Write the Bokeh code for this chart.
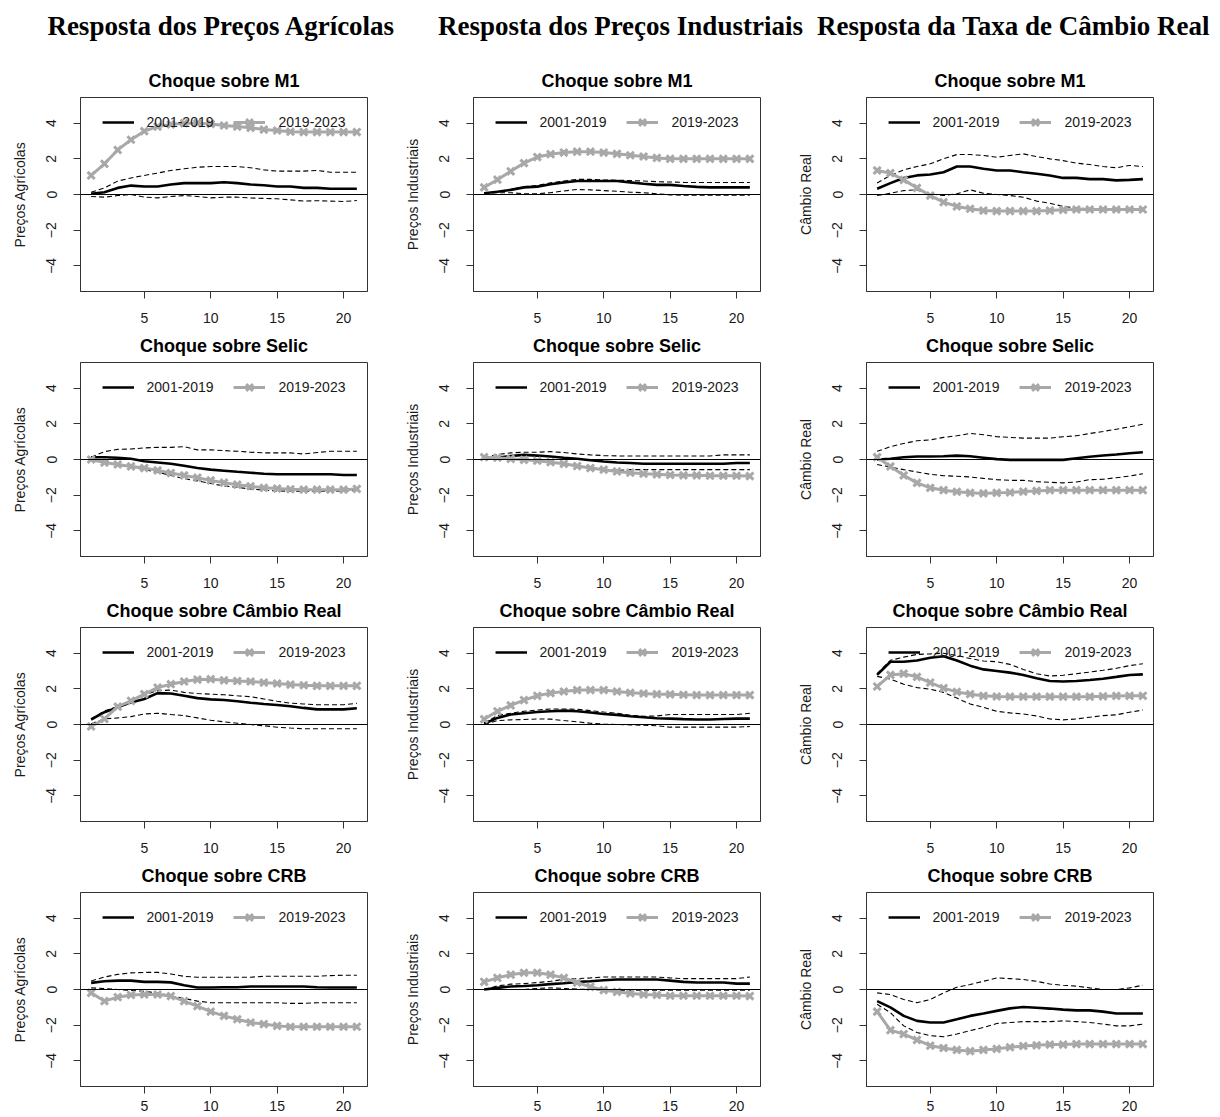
from bokeh.plotting import figure
from bokeh.layouts import gridplot, column
from bokeh.models import Title, Legend, LegendItem, FixedTicker, Span
from bokeh.core.properties import value
from bokeh.embed import file_html
from bokeh.resources import INLINE

horizon = list(range(1, 22))

column_titles = ["Resposta dos Preços Agrícolas", "Resposta dos Preços Industriais", "Resposta da Taxa de Câmbio Real"]
shock_titles = ["Choque sobre M1", "Choque sobre Selic", "Choque sobre Câmbio Real", "Choque sobre CRB"]
y_labels = ["Preços Agrícolas", "Preços Industriais", "Câmbio Real"]
series_names = ["2001-2019", "2019-2023"]
x_ticks = [5, 10, 15, 20]
y_ticks = [-4, -2, 0, 2, 4]

# ---- Shock: M1 ----
agr_m1_a = [0.04, 0.13, 0.37, 0.50, 0.45, 0.45, 0.56, 0.64, 0.64, 0.64, 0.69, 0.64, 0.56, 0.52, 0.45, 0.45, 0.37, 0.37, 0.32, 0.32, 0.32]
agr_m1_up = [0.13, 0.37, 0.75, 0.93, 1.07, 1.20, 1.35, 1.44, 1.53, 1.57, 1.57, 1.57, 1.50, 1.38, 1.31, 1.31, 1.31, 1.35, 1.25, 1.25, 1.25]
agr_m1_lo = [-0.11, -0.15, -0.06, 0.0, -0.15, -0.19, -0.11, -0.06, -0.11, -0.19, -0.15, -0.15, -0.19, -0.22, -0.24, -0.30, -0.37, -0.35, -0.37, -0.39, -0.34]
agr_m1_b = [1.07, 1.72, 2.50, 3.07, 3.55, 3.81, 3.93, 4.00, 4.00, 3.96, 3.87, 3.81, 3.74, 3.64, 3.59, 3.52, 3.50, 3.50, 3.50, 3.50, 3.50]

ind_m1_a = [0.07, 0.15, 0.26, 0.40, 0.44, 0.57, 0.68, 0.76, 0.76, 0.76, 0.76, 0.68, 0.60, 0.54, 0.54, 0.48, 0.43, 0.40, 0.40, 0.40, 0.40]
ind_m1_up = [0.07, 0.18, 0.28, 0.44, 0.50, 0.65, 0.76, 0.85, 0.85, 0.81, 0.80, 0.78, 0.76, 0.72, 0.70, 0.68, 0.67, 0.67, 0.67, 0.67, 0.67]
ind_m1_lo = [0.07, 0.10, 0.10, 0.04, 0.04, 0.10, 0.20, 0.28, 0.26, 0.22, 0.18, 0.13, 0.10, 0.04, -0.02, -0.04, -0.04, -0.04, -0.04, -0.04, -0.04]
ind_m1_b = [0.40, 0.83, 1.30, 1.76, 2.10, 2.26, 2.35, 2.40, 2.40, 2.35, 2.28, 2.20, 2.13, 2.05, 2.00, 2.00, 2.00, 2.00, 2.00, 2.00, 2.00]

cam_m1_a = [0.32, 0.64, 0.93, 1.07, 1.12, 1.25, 1.57, 1.57, 1.44, 1.35, 1.35, 1.25, 1.16, 1.07, 0.93, 0.93, 0.86, 0.86, 0.79, 0.82, 0.86]
cam_m1_up = [0.64, 1.07, 1.38, 1.57, 1.72, 2.00, 2.24, 2.24, 2.19, 2.09, 2.19, 2.28, 2.13, 2.00, 1.90, 1.76, 1.68, 1.57, 1.50, 1.63, 1.57]
cam_m1_lo = [-0.06, 0.07, 0.22, 0.26, 0.04, -0.06, 0.04, 0.26, 0.07, 0.0, -0.06, -0.15, -0.37, -0.49, -0.67, -0.75, -0.80, -0.80, -0.80, -0.80, -0.80]
cam_m1_b = [1.35, 1.20, 0.82, 0.37, -0.06, -0.43, -0.67, -0.80, -0.90, -0.93, -0.93, -0.93, -0.93, -0.90, -0.86, -0.84, -0.84, -0.84, -0.84, -0.84, -0.84]

# ---- Shock: Selic ----
agr_se_a = [0.13, 0.13, 0.10, 0.04, -0.10, -0.17, -0.24, -0.35, -0.48, -0.57, -0.63, -0.69, -0.74, -0.80, -0.83, -0.83, -0.83, -0.83, -0.83, -0.87, -0.87]
agr_se_up = [0.13, 0.44, 0.57, 0.59, 0.65, 0.68, 0.68, 0.72, 0.54, 0.54, 0.50, 0.46, 0.41, 0.37, 0.37, 0.37, 0.31, 0.39, 0.46, 0.46, 0.46]
agr_se_lo = [0.0, -0.09, -0.30, -0.43, -0.56, -0.72, -0.89, -1.07, -1.20, -1.35, -1.48, -1.57, -1.65, -1.72, -1.76, -1.78, -1.78, -1.78, -1.78, -1.76, -1.74]
agr_se_b = [0.0, -0.17, -0.28, -0.39, -0.48, -0.61, -0.76, -0.89, -1.02, -1.17, -1.30, -1.41, -1.50, -1.59, -1.63, -1.67, -1.69, -1.69, -1.69, -1.69, -1.65]

ind_se_a = [0.10, 0.10, 0.20, 0.26, 0.22, 0.17, 0.10, 0.04, -0.04, -0.11, -0.17, -0.20, -0.24, -0.24, -0.24, -0.24, -0.24, -0.24, -0.24, -0.20, -0.20]
ind_se_up = [0.10, 0.28, 0.37, 0.41, 0.41, 0.44, 0.39, 0.31, 0.26, 0.22, 0.20, 0.20, 0.20, 0.20, 0.20, 0.20, 0.20, 0.20, 0.26, 0.26, 0.26]
ind_se_lo = [0.10, 0.04, 0.04, 0.04, -0.02, -0.11, -0.24, -0.35, -0.46, -0.56, -0.61, -0.57, -0.57, -0.57, -0.57, -0.57, -0.57, -0.57, -0.57, -0.57, -0.57]
ind_se_b = [0.13, 0.10, 0.04, -0.02, -0.07, -0.15, -0.24, -0.37, -0.48, -0.57, -0.67, -0.74, -0.80, -0.83, -0.87, -0.89, -0.89, -0.91, -0.91, -0.91, -0.93]

cam_se_a = [0.0, 0.04, 0.13, 0.17, 0.17, 0.18, 0.22, 0.18, 0.10, 0.02, -0.02, -0.02, -0.02, -0.02, -0.02, 0.07, 0.15, 0.22, 0.28, 0.35, 0.41]
cam_se_up = [0.46, 0.72, 0.90, 1.05, 1.10, 1.24, 1.33, 1.46, 1.39, 1.28, 1.24, 1.20, 1.20, 1.20, 1.28, 1.33, 1.46, 1.57, 1.70, 1.83, 1.98]
cam_se_lo = [-0.28, -0.43, -0.57, -0.70, -0.83, -0.91, -0.94, -0.98, -1.06, -1.13, -1.17, -1.17, -1.24, -1.28, -1.31, -1.26, -1.13, -1.11, -1.02, -0.93, -0.80]
cam_se_b = [0.13, -0.39, -0.89, -1.31, -1.59, -1.72, -1.81, -1.87, -1.90, -1.87, -1.85, -1.80, -1.76, -1.72, -1.72, -1.72, -1.72, -1.72, -1.72, -1.72, -1.72]

# ---- Shock: Câmbio Real ----
agr_ca_a = [0.28, 0.69, 0.96, 1.24, 1.43, 1.76, 1.74, 1.61, 1.48, 1.41, 1.37, 1.30, 1.22, 1.15, 1.09, 1.02, 0.93, 0.85, 0.85, 0.85, 0.91]
agr_ca_up = [0.30, 0.76, 1.00, 1.30, 1.67, 1.89, 1.93, 1.80, 1.74, 1.70, 1.67, 1.61, 1.56, 1.43, 1.30, 1.20, 1.15, 1.11, 1.11, 1.11, 1.19]
agr_ca_lo = [0.04, 0.31, 0.37, 0.44, 0.59, 0.63, 0.56, 0.50, 0.37, 0.24, 0.15, 0.07, 0.0, -0.07, -0.15, -0.20, -0.24, -0.24, -0.24, -0.24, -0.24]
agr_ca_b = [-0.11, 0.31, 1.00, 1.33, 1.70, 2.07, 2.26, 2.41, 2.52, 2.54, 2.48, 2.44, 2.41, 2.35, 2.30, 2.24, 2.20, 2.17, 2.17, 2.17, 2.17]

ind_ca_a = [0.04, 0.37, 0.56, 0.63, 0.70, 0.74, 0.78, 0.74, 0.67, 0.59, 0.54, 0.46, 0.41, 0.35, 0.33, 0.30, 0.28, 0.28, 0.31, 0.33, 0.33]
ind_ca_up = [0.07, 0.50, 0.63, 0.74, 0.81, 0.87, 0.87, 0.85, 0.78, 0.70, 0.63, 0.52, 0.46, 0.48, 0.56, 0.56, 0.56, 0.56, 0.56, 0.56, 0.63]
ind_ca_lo = [0.0, 0.22, 0.26, 0.28, 0.31, 0.30, 0.22, 0.15, 0.07, 0.02, 0.0, -0.02, -0.04, -0.07, -0.15, -0.15, -0.15, -0.15, -0.15, -0.15, -0.11]
ind_ca_b = [0.30, 0.74, 1.07, 1.37, 1.61, 1.76, 1.85, 1.93, 1.93, 1.93, 1.85, 1.78, 1.74, 1.70, 1.69, 1.67, 1.65, 1.65, 1.65, 1.65, 1.65]

cam_ca_a = [2.78, 3.52, 3.52, 3.59, 3.74, 3.83, 3.59, 3.30, 3.09, 3.00, 2.91, 2.78, 2.59, 2.44, 2.41, 2.44, 2.50, 2.57, 2.67, 2.78, 2.81]
cam_ca_up = [2.85, 3.60, 3.78, 3.93, 3.96, 4.00, 3.87, 3.70, 3.56, 3.52, 3.37, 3.09, 2.85, 2.72, 2.76, 2.85, 2.94, 3.04, 3.15, 3.30, 3.41]
cam_ca_lo = [2.70, 2.54, 2.26, 2.07, 1.98, 1.80, 1.48, 1.15, 0.96, 0.74, 0.65, 0.59, 0.48, 0.31, 0.26, 0.31, 0.41, 0.50, 0.54, 0.69, 0.81]
cam_ca_b = [2.13, 2.78, 2.85, 2.67, 2.35, 2.04, 1.83, 1.70, 1.61, 1.57, 1.56, 1.56, 1.56, 1.56, 1.56, 1.56, 1.56, 1.58, 1.60, 1.61, 1.61]

# ---- Shock: CRB ----
agr_crb_a = [0.37, 0.46, 0.50, 0.50, 0.43, 0.43, 0.40, 0.24, 0.11, 0.11, 0.13, 0.13, 0.17, 0.17, 0.17, 0.17, 0.17, 0.13, 0.11, 0.11, 0.11]
agr_crb_up = [0.48, 0.70, 0.85, 0.93, 0.96, 0.96, 0.87, 0.74, 0.69, 0.69, 0.69, 0.69, 0.69, 0.74, 0.74, 0.74, 0.74, 0.74, 0.78, 0.80, 0.80]
agr_crb_lo = [0.09, 0.05, 0.0, -0.05, -0.10, -0.20, -0.35, -0.50, -0.65, -0.74, -0.74, -0.74, -0.74, -0.74, -0.74, -0.78, -0.78, -0.74, -0.74, -0.74, -0.74]
agr_crb_b = [-0.19, -0.65, -0.43, -0.31, -0.28, -0.28, -0.37, -0.65, -0.93, -1.24, -1.48, -1.67, -1.85, -1.94, -2.04, -2.09, -2.09, -2.09, -2.09, -2.09, -2.09]

ind_crb_a = [0.0, 0.09, 0.17, 0.20, 0.24, 0.30, 0.35, 0.43, 0.46, 0.52, 0.56, 0.56, 0.56, 0.56, 0.50, 0.43, 0.39, 0.39, 0.39, 0.33, 0.33]
ind_crb_up = [0.0, 0.20, 0.30, 0.33, 0.39, 0.46, 0.57, 0.61, 0.65, 0.70, 0.70, 0.70, 0.70, 0.70, 0.65, 0.61, 0.61, 0.61, 0.61, 0.61, 0.70]
ind_crb_lo = [0.0, 0.0, 0.0, 0.0, 0.06, 0.09, 0.06, 0.02, 0.0, -0.04, -0.04, -0.04, -0.04, -0.04, -0.04, -0.04, -0.04, -0.04, -0.04, -0.04, -0.04]
ind_crb_b = [0.43, 0.65, 0.83, 0.94, 0.94, 0.83, 0.65, 0.39, 0.15, -0.04, -0.13, -0.22, -0.28, -0.31, -0.35, -0.35, -0.35, -0.35, -0.35, -0.35, -0.37]

cam_crb_a = [-0.65, -1.00, -1.48, -1.76, -1.85, -1.85, -1.67, -1.48, -1.35, -1.20, -1.06, -0.98, -1.02, -1.07, -1.13, -1.17, -1.17, -1.24, -1.35, -1.35, -1.35]
cam_crb_up = [-0.19, -0.28, -0.56, -0.74, -0.56, -0.19, 0.13, 0.28, 0.46, 0.65, 0.61, 0.56, 0.46, 0.31, 0.24, 0.19, 0.09, 0.0, 0.0, 0.09, 0.24]
cam_crb_lo = [-0.83, -1.30, -2.04, -2.41, -2.59, -2.65, -2.50, -2.31, -2.13, -1.91, -1.85, -1.80, -1.80, -1.80, -1.76, -1.80, -1.85, -1.94, -2.04, -2.04, -1.94]
cam_crb_b = [-1.24, -2.28, -2.50, -2.83, -3.15, -3.28, -3.39, -3.46, -3.39, -3.33, -3.24, -3.17, -3.13, -3.09, -3.09, -3.06, -3.06, -3.06, -3.06, -3.06, -3.06]

panels = [
    [(agr_m1_a, agr_m1_up, agr_m1_lo, agr_m1_b), (ind_m1_a, ind_m1_up, ind_m1_lo, ind_m1_b), (cam_m1_a, cam_m1_up, cam_m1_lo, cam_m1_b)],
    [(agr_se_a, agr_se_up, agr_se_lo, agr_se_b), (ind_se_a, ind_se_up, ind_se_lo, ind_se_b), (cam_se_a, cam_se_up, cam_se_lo, cam_se_b)],
    [(agr_ca_a, agr_ca_up, agr_ca_lo, agr_ca_b), (ind_ca_a, ind_ca_up, ind_ca_lo, ind_ca_b), (cam_ca_a, cam_ca_up, cam_ca_lo, cam_ca_b)],
    [(agr_crb_a, agr_crb_up, agr_crb_lo, agr_crb_b), (ind_crb_a, ind_crb_up, ind_crb_lo, ind_crb_b), (cam_crb_a, cam_crb_up, cam_crb_lo, cam_crb_b)],
]

SANS = "Liberation Sans"
SERIF = "Liberation Serif"
GREY = "#a8a8a8"
AXC = "#333333"

# layout constants (pixels)
HEADER_W, HEADER_H = 1215, 50
header_centers = [221, 620, 1013]

hdr = figure(width=HEADER_W, height=HEADER_H, x_range=(0, HEADER_W), y_range=(0, HEADER_H),
             output_backend="svg", toolbar_location=None, min_border=0,
             x_axis_type=None, y_axis_type=None)
hdr.outline_line_color = None
hdr.grid.visible = False
hdr.text(x=header_centers, y=[HEADER_H / 2] * 3, text=column_titles,
         text_align="center", text_baseline="middle",
         text_font=value(SERIF), text_font_size="27px", text_font_style="bold",
         text_color="black")

rows = []
for i, shock in enumerate(shock_titles):
    row = []
    last = (i == len(shock_titles) - 1)
    for j in range(3):
        a, up, lo, b = panels[i][j]
        top = 47 if i == 0 else 36
        bottom = 0 if last else 35
        left = 80 if j == 0 else 76
        p = figure(frame_width=287, frame_height=194,
                   x_range=(0.2, 21.8), y_range=(-5.44, 5.44),
                   output_backend="svg", toolbar_location=None, title=None,
                   min_border_left=left, min_border_right=30,
                   min_border_top=top, min_border_bottom=bottom)
        p.grid.visible = False
        p.outline_line_color = AXC
        p.outline_line_width = 1
        p.outline_line_alpha = 1
        p.background_fill_color = "white"
        p.border_fill_color = "white"

        for ax in (p.xaxis[0], p.yaxis[0]):
            ax.major_tick_in = 0
            ax.major_tick_out = 7
            ax.minor_tick_in = 0
            ax.minor_tick_out = 0
            ax.axis_line_color = AXC
            ax.major_tick_line_color = AXC
            ax.major_label_text_font = SANS
            ax.major_label_text_font_size = "14px"
            ax.major_label_text_color = "#1a1a1a"
        p.xaxis.ticker = FixedTicker(ticks=x_ticks)
        p.yaxis.ticker = FixedTicker(ticks=y_ticks)
        p.xaxis.major_label_standoff = 7 if last else 14
        p.yaxis.major_label_standoff = 17
        p.yaxis.major_label_orientation = "vertical"
        p.yaxis.axis_label = y_labels[j]
        p.yaxis.axis_label_text_font = SANS
        p.yaxis.axis_label_text_font_size = "14px"
        p.yaxis.axis_label_text_font_style = "normal"
        p.yaxis.axis_label_text_color = "#1a1a1a"
        p.yaxis.axis_label_standoff = 16

        p.add_layout(Span(location=0, dimension="width", line_color="black", line_width=1))
        r_a = p.line(horizon, a, line_color="black", line_width=2.6)
        p.line(horizon, up, line_color="black", line_width=1.1, line_dash="5 3")
        p.line(horizon, lo, line_color="black", line_width=1.1, line_dash="5 3")
        r_bl = p.line(horizon, b, line_color=GREY, line_width=3)
        r_bp = p.scatter(horizon, b, marker="x", size=10, line_color=GREY, line_width=3)

        legend = Legend(items=[LegendItem(label=series_names[0], renderers=[r_a]),
                               LegendItem(label=series_names[1], renderers=[r_bl, r_bp])],
                        orientation="horizontal", location="top_center",
                        border_line_color=None, background_fill_alpha=0,
                        label_text_font=SANS, label_text_font_size="14px",
                        label_text_color="#1a1a1a",
                        glyph_width=32, glyph_height=24, label_standoff=13,
                        spacing=20, margin=13, padding=8)
        p.add_layout(legend)

        p.add_layout(Title(text=shock, align="center", vertical_align="top", text_font=SANS,
                           text_font_size="18px", text_font_style="bold",
                           text_color="black", standoff=10), "above")
        row.append(p)
    rows.append(row)

grid = gridplot(rows, toolbar_location=None)
page = column(hdr, grid, spacing=0)
open("out.html", "w").write(file_html(page, INLINE))
